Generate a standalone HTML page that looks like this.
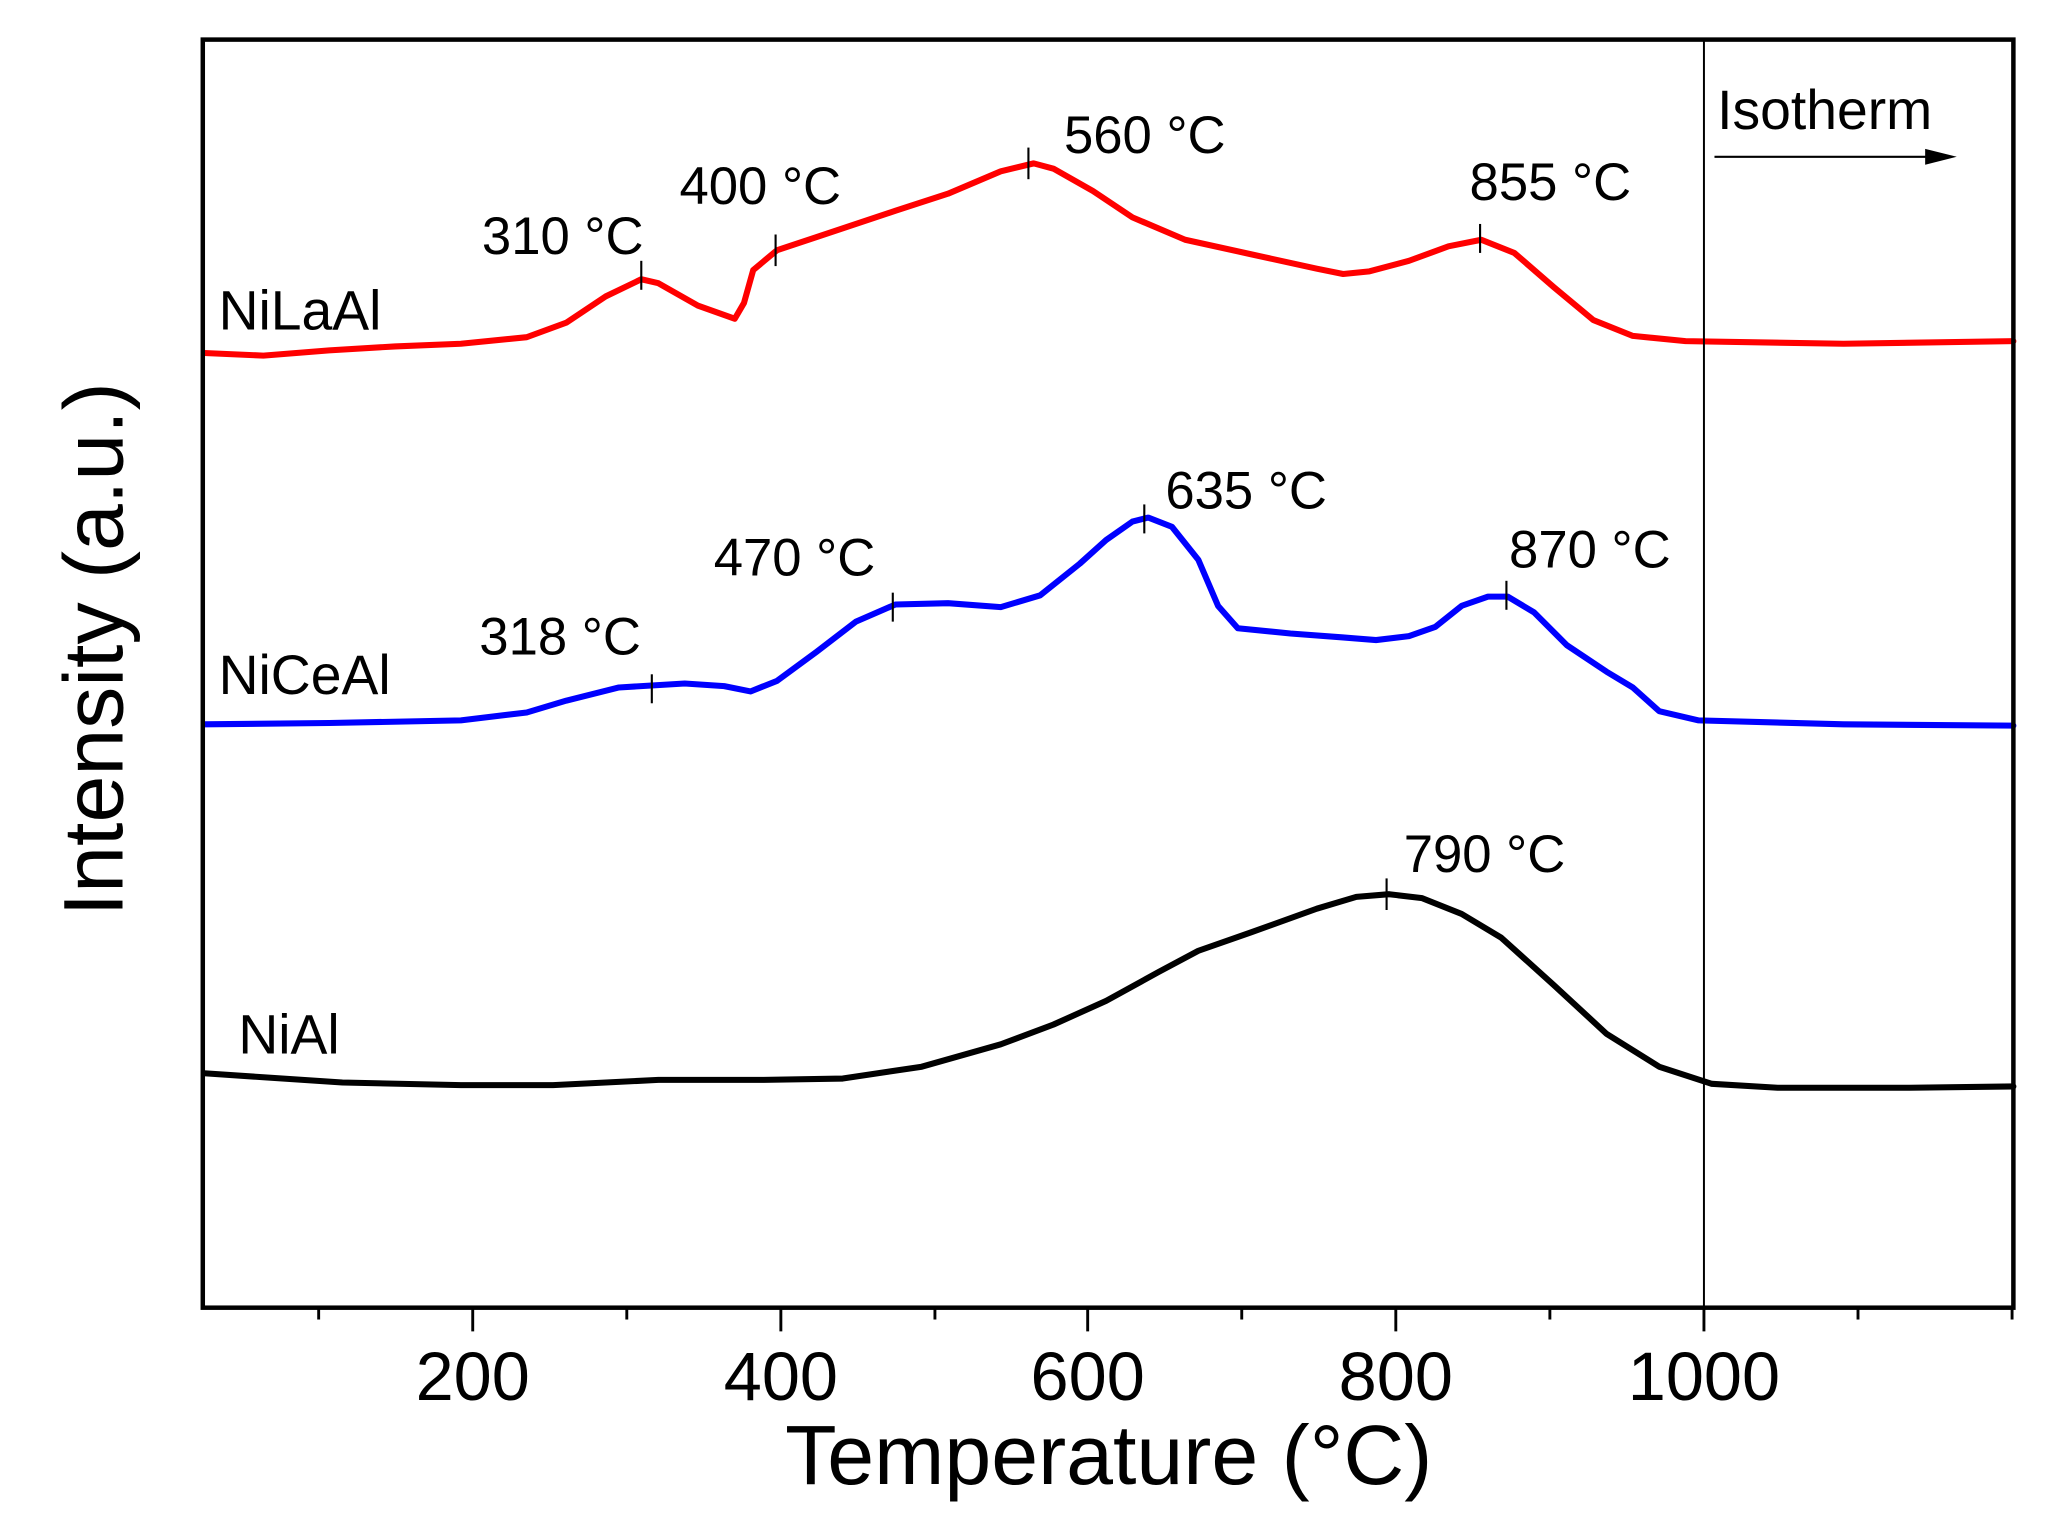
<!DOCTYPE html>
<html><head><meta charset="utf-8"><style>
html,body{margin:0;padding:0;background:#fff}
svg{display:block}
text{font-family:"Liberation Sans",Arial,sans-serif;fill:#000}
</style></head><body>
<svg width="2055" height="1529" viewBox="0 0 1560.6 1161" xmlns="http://www.w3.org/2000/svg">
<rect x="0" y="0" width="1560.6" height="1161" fill="#fff"/>
<g fill="none" stroke-width="4.6" stroke-linejoin="round" stroke-linecap="round">
<polyline stroke="#000" points="155,815 200,818 260,822 350,824 420,824 500,820 580,820 640,819 700,810 760,793 800,778 840,760 880,738 910,722 950,708 1000,690 1030,681 1055,679 1080,682 1110,694 1140,712 1180,748 1220,785 1260,810 1300,823 1350,826 1450,826 1529,825"/>
<polyline stroke="#0000ff" points="155,550 250,549 350,547 400,541 430,532 470,522 520,519 550,521 570,525 590,517 620,495 650,472 680,459 720,458 760,461 790,452 820,428 840,410 860,396 872,393 890,400 910,425 925,460 940,477 980,481 1020,484 1045,486 1070,483 1090,476 1110,460 1130,453 1145,453 1165,465 1190,490 1220,510 1240,522 1260,540 1290,547 1400,550 1529,551"/>
<polyline stroke="#ff0000" points="155,268 200,270 250,266 300,263 350,261 400,256 430,245 460,225 487,212 500,215 530,232 558,242 565,230 572,205 590,190 620,180 680,160 720,147 760,130 785,124 800,128 830,145 860,165 900,182 950,193 1000,204 1020,208 1040,206 1070,198 1100,187 1125,182 1150,192 1180,218 1210,243 1240,255 1280,259 1400,261 1529,259"/>
</g>
<g stroke="#000" stroke-width="1.6">
<line x1="487" y1="198" x2="487" y2="220"/><line x1="589" y1="178" x2="589" y2="202"/>
<line x1="781" y1="112" x2="781" y2="136"/><line x1="1124" y1="170" x2="1124" y2="192"/>
<line x1="495" y1="512" x2="495" y2="534"/><line x1="678" y1="450" x2="678" y2="472"/>
<line x1="869" y1="383" x2="869" y2="405"/><line x1="1144" y1="441" x2="1144" y2="463"/>
<line x1="1053" y1="667" x2="1053" y2="691"/>
</g>
<line x1="1294" y1="30" x2="1294" y2="993" stroke="#000" stroke-width="1.5"/>
<line x1="1302" y1="119" x2="1468" y2="119" stroke="#000" stroke-width="1.6"/>
<polygon points="1486,119 1462,113 1462,125" fill="#000"/>
<rect x="154" y="30" width="1375" height="963" fill="none" stroke="#000" stroke-width="3.4"/>
<g stroke="#000" stroke-width="2.2">
<line x1="359" y1="993" x2="359" y2="1011"/><line x1="593" y1="993" x2="593" y2="1011"/>
<line x1="826" y1="993" x2="826" y2="1011"/><line x1="1060" y1="993" x2="1060" y2="1011"/>
<line x1="1294" y1="993" x2="1294" y2="1011"/>
<line x1="242" y1="993" x2="242" y2="1002"/><line x1="476" y1="993" x2="476" y2="1002"/>
<line x1="710" y1="993" x2="710" y2="1002"/><line x1="943" y1="993" x2="943" y2="1002"/>
<line x1="1177" y1="993" x2="1177" y2="1002"/><line x1="1411" y1="993" x2="1411" y2="1002"/>
<line x1="1528" y1="993" x2="1528" y2="1002"/>
</g>
<g font-size="52" text-anchor="middle">
<text x="359" y="1063">200</text><text x="593" y="1063">400</text>
<text x="826" y="1063">600</text><text x="1060" y="1063">800</text>
<text x="1294" y="1063">1000</text>
</g>
<text x="842" y="1127" font-size="64" text-anchor="middle">Temperature (°C)</text>
<text transform="translate(93,493) rotate(-90)" font-size="64" text-anchor="middle">Intensity (a.u.)</text>
<g font-size="42">
<text x="166" y="250">NiLaAl</text>
<text x="166" y="527">NiCeAl</text>
<text x="181" y="800">NiAl</text>
<text x="1304" y="98">Isotherm</text>
</g>
<g font-size="40">
<text x="366" y="193">310 °C</text>
<text x="516" y="155">400 °C</text>
<text x="808" y="116">560 °C</text>
<text x="1116" y="152">855 °C</text>
<text x="364" y="497">318 °C</text>
<text x="542" y="437">470 °C</text>
<text x="885" y="386">635 °C</text>
<text x="1146" y="431">870 °C</text>
<text x="1066" y="662">790 °C</text>
</g>
</svg>
</body></html>
